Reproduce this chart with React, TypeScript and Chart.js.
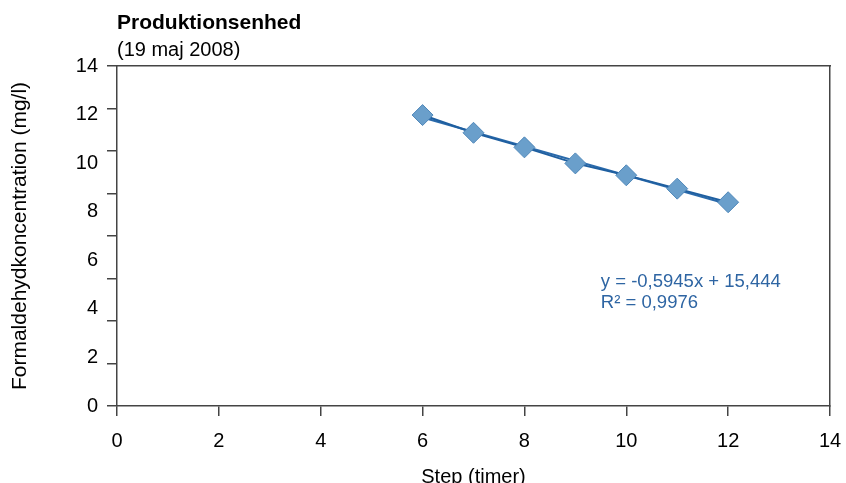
import React, { useEffect, useRef } from "react";
import { Chart, registerables } from "chart.js";

Chart.register(...registerables);

const stepHours = [6, 7, 8, 9, 10, 11, 12];
const formaldehyde = [11.98, 11.25, 10.65, 9.99, 9.5, 8.95, 8.39];
const trendSlope = -0.5945;
const trendIntercept = 15.444;
const trendRange = [6, 12];
const xTickValues = [0, 2, 4, 6, 8, 10, 12, 14];
const yLabelValues = [0, 2, 4, 6, 8, 10, 12, 14];
const yMarkValues = [0, 1.75, 3.5, 5.25, 7, 8.75, 10.5, 12.25, 14];
const titleText = "Produktionsenhed";
const subtitleText = "(19 maj 2008)";
const xTitle = "Step (timer)";
const yTitle = "Formaldehydkoncentration (mg/l)";
const equationLines = ["y = -0,5945x + 15,444", "R² = 0,9976"];
const equationAnchor = { x: 9.5, y: [5.1, 4.24] };

const FONT = "'Liberation Sans', Arial, Helvetica, sans-serif";
const AXIS_COLOR = "#444444";

export default function App() {
  const ref = useRef<HTMLCanvasElement | null>(null);

  useEffect(() => {
    if (!ref.current) return;
    const trendData = trendRange.map((x) => ({ x, y: trendSlope * x + trendIntercept }));
    const pointData = stepHours.map((x, i) => ({ x, y: formaldehyde[i] }));

    const textPlugin = {
      id: "texts",
      afterDraw(chart: any) {
        const ctx = chart.ctx;
        const xs = chart.scales.x;
        const ys = chart.scales.y;
        ctx.save();
        ctx.fillStyle = "#000";
        ctx.textAlign = "left";
        ctx.textBaseline = "middle";
        ctx.font = `bold 21px ${FONT}`;
        ctx.fillText(titleText, chart.chartArea.left, 23);
        ctx.font = `20px ${FONT}`;
        ctx.fillText(subtitleText, chart.chartArea.left, 50);
        ctx.fillStyle = "#2E65A3";
        ctx.font = `18.5px ${FONT}`;
        equationLines.forEach((line, i) => {
          ctx.fillText(line, xs.getPixelForValue(equationAnchor.x), ys.getPixelForValue(equationAnchor.y[i]));
        });
        ctx.restore();
      },
    };

    const chart = new Chart(ref.current, {
      type: "scatter",
      data: {
        datasets: [
          {
            data: pointData,
            showLine: true,
            borderColor: "#1F5FA0",
            borderWidth: 2,
            pointStyle: "rectRot",
            pointRadius: 10.5,
            pointBackgroundColor: "#6A9FCB",
            pointBorderColor: "#4F87B9",
            pointBorderWidth: 1,
          },
          {
            data: trendData,
            showLine: true,
            borderColor: "#2A6AAB",
            borderWidth: 2,
            pointRadius: 0,
          },
        ],
      },
      options: {
        animation: false,
        responsive: false,
        layout: { padding: { top: 66, right: 16, left: 0, bottom: 0 } },
        plugins: { legend: { display: false }, tooltip: { enabled: false } },
        scales: {
          x: {
            type: "linear",
            position: "bottom",
            min: 0,
            max: 14,
            afterBuildTicks: (s: any) => {
              s.ticks = xTickValues.map((v) => ({ value: v }));
            },
            afterFit: (s: any) => {
              s.height = 77;
              s.paddingLeft = 0;
              s.paddingRight = 0;
            },
            grid: { display: true, drawOnChartArea: false, drawTicks: true, tickLength: 10, color: AXIS_COLOR, lineWidth: 1.5 },
            border: { display: true, color: AXIS_COLOR, width: 1.5 },
            ticks: { color: "#000", font: { family: FONT, size: 20 }, padding: 13, maxRotation: 0 },
            title: { display: true, text: xTitle, color: "#000", font: { family: FONT, size: 20, lineHeight: 0.6 }, padding: { top: 0, bottom: 0 } },
          },
          yt: {
            type: "linear",
            position: "left",
            weight: 0,
            min: 0,
            max: 14,
            afterBuildTicks: (s: any) => {
              s.ticks = yMarkValues.map((v) => ({ value: v }));
            },
            afterFit: (s: any) => {
              s.width = 11;
            },
            grid: { display: true, drawOnChartArea: false, drawTicks: true, tickLength: 10, color: AXIS_COLOR, lineWidth: 1.5 },
            border: { display: true, color: AXIS_COLOR, width: 1.5 },
            ticks: { display: false },
          },
          y: {
            type: "linear",
            position: "left",
            weight: 1,
            min: 0,
            max: 14,
            afterBuildTicks: (s: any) => {
              s.ticks = yLabelValues.map((v) => ({ value: v }));
            },
            afterFit: (s: any) => {
              s.width = 106;
            },
            grid: { display: false, drawTicks: false },
            border: { display: false },
            ticks: { color: "#000", font: { family: FONT, size: 20 }, padding: 8 },
            title: { display: true, text: yTitle, color: "#000", font: { family: FONT, size: 21 }, padding: { top: 8, bottom: 0 } },
          },
          xTop: {
            type: "linear",
            position: "top",
            min: 0,
            max: 14,
            afterFit: (s: any) => {
              s.height = 0;
            },
            grid: { display: false },
            border: { display: true, color: AXIS_COLOR, width: 1.5 },
            ticks: { display: false },
          },
          yRight: {
            type: "linear",
            position: "right",
            min: 0,
            max: 14,
            afterFit: (s: any) => {
              s.width = 0;
            },
            grid: { display: false },
            border: { display: true, color: AXIS_COLOR, width: 1.5 },
            ticks: { display: false },
          },
        },
      } as any,
      plugins: [textPlugin],
    });
    return () => chart.destroy();
  }, []);

  return (
    <div style={{ position: "fixed", left: 0, top: 0, width: 846, height: 483, background: "#fff" }}>
      <canvas ref={ref} width={846} height={483} style={{ display: "block", width: 846, height: 483 }} />
    </div>
  );
}
